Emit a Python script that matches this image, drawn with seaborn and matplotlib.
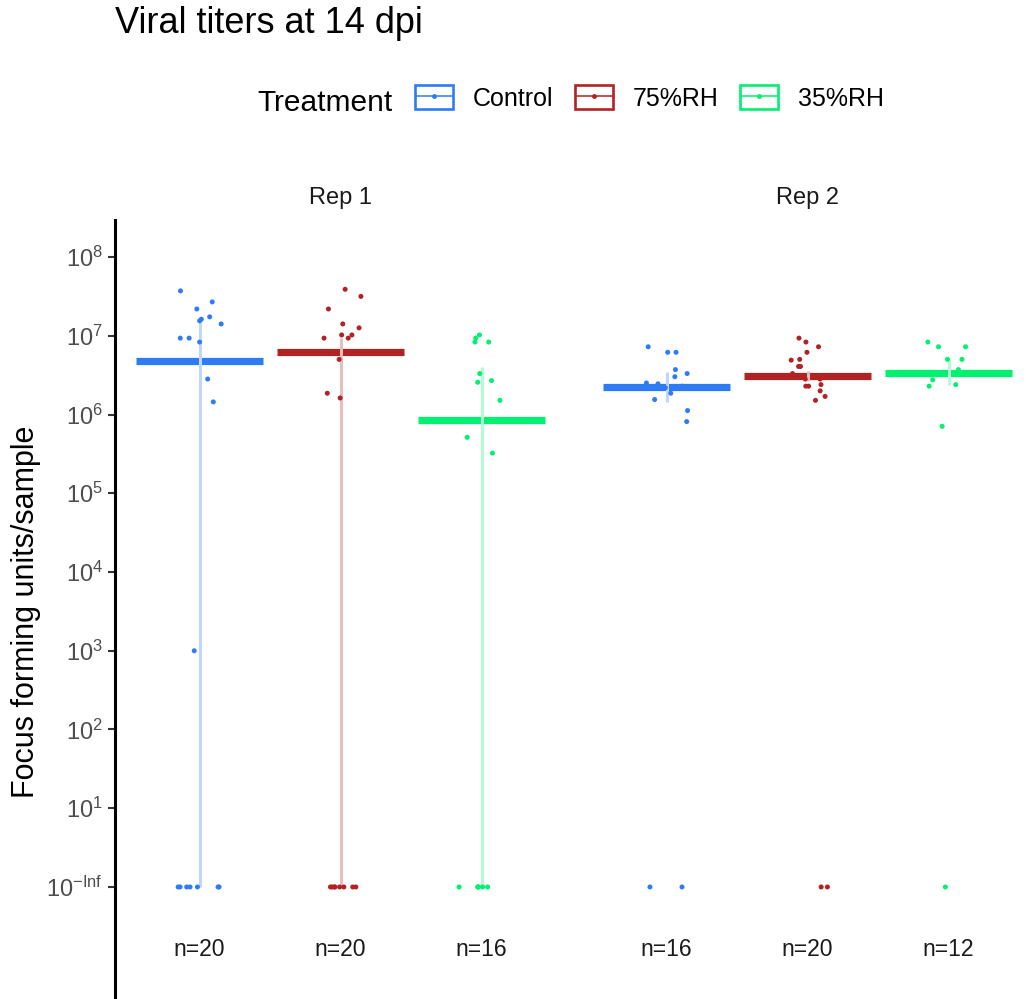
"""
Viral titers at 14 dpi, faceted by replicate (strip + summary bars).
"""
import numpy as np
import pandas as pd
import matplotlib
matplotlib.use("Agg")
import matplotlib.pyplot as plt
import matplotlib.colors as mcolors
import matplotlib.transforms as mtransforms
from matplotlib.patches import Patch
from matplotlib.lines import Line2D
import seaborn as sns

# log10 titers; 0 marks the undetectable samples (10^-Inf)
rep1_control = [7.57, 7.43, 7.34, 7.24, 7.15, 7.21, 7.19, 6.97, 6.97, 6.92,
                6.45, 6.16, 3.0, 0, 0, 0, 0, 0, 0, 0]
rep1_rh75 = [7.59, 7.50, 7.34, 7.15, 7.10, 6.97, 7.01, 7.01, 6.97, 6.70,
             6.27, 6.21, 0, 0, 0, 0, 0, 0, 0, 0]
rep1_rh35 = [7.01, 6.92, 6.92, 6.97, 6.52, 6.43, 6.41, 6.18, 5.71, 5.51,
             0, 0, 0, 0, 0, 0]
rep2_control = [6.86, 6.79, 6.79, 6.57, 6.52, 6.48, 6.40, 6.39, 6.27, 6.19,
                6.05, 5.91, 6.36, 6.34, 0, 0]
rep2_rh75 = [6.97, 6.92, 6.86, 6.79, 6.69, 6.61, 6.70, 6.61, 6.52, 6.48,
             6.45, 6.45, 6.38, 6.36, 6.36, 6.30, 6.23, 6.18, 0, 0]
rep2_rh35 = [6.92, 6.86, 6.86, 6.70, 6.70, 6.57, 6.44, 6.38, 6.36, 5.85,
             6.53, 0]

reps = ["Rep 1", "Rep 2"]
treatments = ["Control", "75%RH", "35%RH"]

# summary bar (centre) and error range, log10 units, per rep in treatment order
centre = {"Rep 1": [6.68, 6.79, 5.93], "Rep 2": [6.35, 6.49, 6.53]}
err_low = {"Rep 1": [0, 0, 0], "Rep 2": [6.16, 6.43, 6.38]}
err_high = {"Rep 1": [7.18, 6.97, 6.60], "Rep 2": [6.54, 6.55, 6.69]}

ytick_vals = [0, 1, 2, 3, 4, 5, 6, 7, 8]
ytick_labels = [r"$\mathregular{10^{-Inf}}$"] + [r"$\mathregular{10^{%d}}$" % v for v in range(1, 9)]

palette = {"Control": "#2E7BF6", "75%RH": "#B22222", "35%RH": "#00F070"}

groups = {
    ("Rep 1", "Control"): rep1_control, ("Rep 1", "75%RH"): rep1_rh75,
    ("Rep 1", "35%RH"): rep1_rh35, ("Rep 2", "Control"): rep2_control,
    ("Rep 2", "75%RH"): rep2_rh75, ("Rep 2", "35%RH"): rep2_rh35,
}
rows = []
for (rep, trt), vals in groups.items():
    for v in vals:
        rows.append({"rep": rep, "treatment": trt, "log_titer": v})
df = pd.DataFrame(rows)


def light(color, alpha=0.3):
    rgb = np.array(mcolors.to_rgb(color))
    return tuple(alpha * rgb + (1 - alpha) * 1.0)


sns.set_style("white")
plt.rcParams["font.family"] = ["Liberation Sans", "DejaVu Sans"]
plt.rcParams["text.color"] = "black"
np.random.seed(7)

W, H = 1026, 999
fig = plt.figure(figsize=(W / 100, H / 100), dpi=100)
unit = 141.0
ymin, ymax = -1.4226, 8.47
ax_top = 220

axes = [
    fig.add_axes([115 / W, 0, 3.2 * unit / W, (H - ax_top) / H]),
    fig.add_axes([582 / W, 0, (W - 582) / W, (H - ax_top) / H]),
]

for ax, rep in zip(axes, reps):
    sub = df[df["rep"] == rep]
    sns.stripplot(data=sub, x="treatment", y="log_titer", order=treatments,
                  hue="treatment", hue_order=treatments, palette=palette,
                  jitter=0.16, size=3.6, linewidth=0, legend=False, ax=ax,
                  zorder=4)
    for i, trt in enumerate(treatments):
        c = palette[trt]
        ax.hlines(centre[rep][i], i - 0.45, i + 0.45, color=c, lw=5.2, zorder=2)
        ax.vlines(i, err_low[rep][i], err_high[rep][i], color=light(c), lw=2.2, zorder=3)
        n = len(sub[sub["treatment"] == trt])
        ax.text(i, -0.80, f"n={n}", ha="center", va="center", fontsize=16.5, color="#1A1A1A")

    ax.set_ylim(ymin, ymax)
    ax.set_xlabel("")
    ax.set_ylabel("")
    ax.set_xticks([])
    for s in ["top", "right", "bottom"]:
        ax.spines[s].set_visible(False)
    trans = mtransforms.blended_transform_factory(ax.transData, ax.transAxes)
    ax.text(1, (H - 198) / (H - ax_top), rep, transform=trans, ha="center",
            va="center", fontsize=17, color="#1A1A1A")

axes[0].set_xlim(-0.6, 2.6)
axes[1].set_xlim(-0.6, -0.6 + (W - 582) / unit)

axes[0].set_yticks(ytick_vals)
axes[0].set_yticklabels(ytick_labels)
axes[0].spines["left"].set_linewidth(2.2)
axes[0].spines["left"].set_color("black")
axes[0].tick_params(axis="y", length=4.7, width=1.5, color="#333333",
                    labelcolor="#4D4D4D", labelsize=17, pad=4, left=True)

axes[1].spines["left"].set_visible(False)
axes[1].set_yticks([])

fig.text(26 / W, 0.388, "Focus forming units/sample", rotation=90,
         ha="center", va="center", fontsize=22, color="black")
fig.text(115 / W, 1 - 33 / H, "Viral titers at 14 dpi", ha="left",
         va="baseline", fontsize=26, color="black")
fig.text(257 / W, 1 - 111 / H, "Treatment", ha="left", va="baseline",
         fontsize=21.5, color="black")

handles = []
for trt in treatments:
    c = palette[trt]
    handles.append((Patch(facecolor="none", edgecolor=c, lw=1.9),
                    Line2D([], [], color=c, lw=1.1, marker="o", ms=2.5)))
leg = fig.legend(handles, treatments, loc="center left", ncol=3,
                 bbox_to_anchor=(415 / W, 1 - 98 / H), frameon=False,
                 fontsize=18, handlelength=1.52, handleheight=1.05,
                 handletextpad=0.8, columnspacing=0.85, borderpad=0, borderaxespad=0)
for t in leg.get_texts():
    t.set_color("black")

fig.savefig("out.png", dpi=100)
